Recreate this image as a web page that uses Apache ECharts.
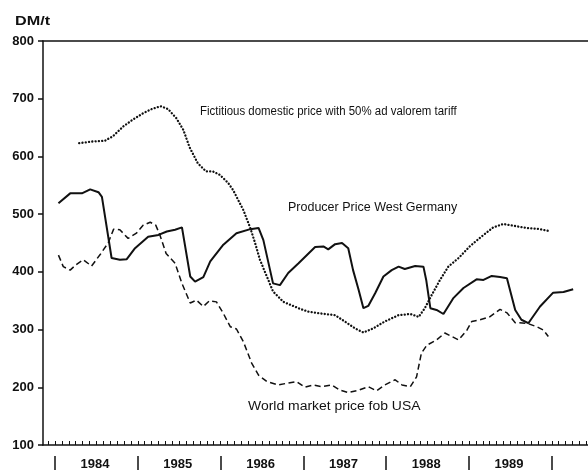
<!DOCTYPE html>
<html>
<head>
<meta charset="utf-8">
<script src="https://cdn.jsdelivr.net/npm/echarts@6/dist/echarts.min.js"></script>
<style>
  html, body { margin: 0; padding: 0; background: #fff; }
  #chart { width: 588px; height: 470px; }
</style>
</head>
<body>
<div id="chart"></div>
<script>
// Years shown under the time axis; months are counted from January 1984 (= 0)
const years = ['1984', '1985', '1986', '1987', '1988', '1989'];
const unitLabel = 'DM/t';

// [month, DM per tonne]
const producerPrice = [
  [0.5, 519], [2.2, 536], [3.9, 536], [5.1, 543], [6.3, 538], [6.8, 530],
  [8.2, 424], [9.4, 421], [10.4, 422], [11.6, 441], [13.5, 461], [15.0, 464],
  [16.2, 470], [17.4, 473], [18.4, 477], [18.6, 476], [19.6, 392], [20.3, 383],
  [21.5, 391], [22.5, 418], [24.4, 447], [26.3, 467], [28.3, 474], [29.5, 476],
  [30.2, 455], [31.6, 380], [32.6, 377], [33.8, 398], [35.3, 415], [37.7, 443],
  [38.9, 444], [39.6, 439], [40.6, 448], [41.6, 450], [42.5, 441], [43.2, 403],
  [44.0, 369], [44.7, 337], [45.4, 341], [46.4, 363], [47.6, 392], [48.8, 403],
  [49.8, 409], [50.7, 405], [52.2, 410], [53.4, 409], [53.8, 386], [54.4, 337],
  [55.3, 334], [56.3, 327], [57.7, 354], [59.2, 372], [61.1, 387], [62.1, 386],
  [63.3, 393], [64.5, 391], [65.5, 389], [66.7, 334], [67.6, 317], [68.6, 311],
  [70.3, 340], [72.2, 364], [73.7, 365], [75.1, 370]
];

const fictitiousPrice = [
  [3.5, 623], [5.5, 626], [7.2, 627], [8.4, 635], [9.9, 652], [11.3, 664],
  [12.8, 675], [14.0, 682], [15.3, 687], [16.4, 682], [17.6, 666], [18.6, 646],
  [19.5, 616], [20.7, 588], [21.9, 574], [22.9, 574], [23.9, 568], [25.1, 554],
  [25.8, 542], [27.3, 507], [28.3, 476], [29.0, 450], [29.7, 421], [30.7, 392],
  [31.6, 366], [33.1, 348], [35.5, 336], [36.7, 331], [39.1, 327], [40.6, 325],
  [42.0, 314], [43.5, 302], [44.7, 295], [46.1, 302], [47.8, 314], [49.8, 325],
  [51.5, 327], [52.7, 322], [53.6, 337], [54.6, 360], [55.8, 386], [57.0, 409],
  [58.5, 424], [60.1, 444], [61.8, 461], [63.5, 477], [65.0, 483], [66.4, 480],
  [68.4, 476], [70.3, 474], [71.5, 471]
];

const worldPrice = [
  [0.5, 429], [1.2, 409], [2.2, 403], [3.0, 412], [4.1, 421], [5.3, 410],
  [6.6, 431], [7.7, 450], [8.5, 474], [9.4, 473], [10.6, 458], [11.8, 467],
  [12.8, 481], [13.8, 486], [14.6, 481], [15.2, 464], [16.1, 432], [17.4, 415],
  [18.4, 380], [19.6, 346], [20.5, 351], [21.5, 340], [22.4, 350], [23.4, 348],
  [24.4, 328], [25.4, 305], [26.3, 301], [27.3, 279], [28.5, 242], [29.5, 221],
  [30.7, 210], [32.4, 204], [33.6, 207], [35.0, 210], [36.2, 200], [37.4, 204],
  [38.7, 201], [40.1, 204], [41.3, 195], [42.5, 191], [44.0, 195], [45.4, 201],
  [46.6, 194], [47.8, 204], [49.3, 213], [50.3, 204], [51.5, 201], [52.4, 218],
  [53.1, 259], [53.9, 273], [55.3, 282], [56.5, 294], [57.5, 288], [58.5, 282],
  [59.7, 299], [60.4, 314], [61.6, 317], [63.0, 322], [64.5, 335], [65.5, 329],
  [66.7, 312], [68.4, 311], [69.8, 305], [70.8, 299], [71.5, 288]
];

const fictitiousLabel = 'Fictitious domestic price with 50% ad valorem tariff';
const producerLabel = 'Producer Price West Germany';
const worldLabel = 'World market price fob USA';

// Axis helpers: monthly minor ticks, year boundaries and mid-year label spots
const monthMin = -1.74, monthMax = 77.25;
const monthTicks = [];
for (let m = Math.ceil(monthMin); m <= Math.floor(monthMax); m++) monthTicks.push(m);
const yearBounds = years.map((_, i) => i * 12).concat([years.length * 12]);
const yearMids = years.map((_, i) => i * 12 + 5.8);

const ink = '#111';
const tickFont = { color: ink, fontFamily: 'Liberation Sans', fontWeight: 'bold', fontSize: 13 };
const noteFont = { fill: ink, font: '12.5px "Liberation Sans"' };

const chart = echarts.init(document.getElementById('chart'), null, { renderer: 'canvas' });

chart.setOption({
  animation: false,
  backgroundColor: '#fff',
  grid: { left: 43, right: 0, top: 41, bottom: 25, containLabel: false, outerBoundsMode: 'none' },
  xAxis: [
    {
      type: 'value', min: monthMin, max: monthMax, position: 'bottom',
      axisLine: { onZero: false, lineStyle: { color: ink, width: 1.5 } },
      axisTick: { inside: true, length: 4, customValues: monthTicks, lineStyle: { color: ink, width: 1 } },
      axisLabel: Object.assign({ customValues: yearMids, margin: 13,
        formatter: v => years[Math.floor(v / 12)] }, tickFont),
      splitLine: { show: false }
    },
    {
      type: 'value', min: monthMin, max: monthMax, position: 'bottom', offset: 11,
      axisLine: { show: false, onZero: false },
      axisTick: { length: 14, customValues: yearBounds, lineStyle: { color: ink, width: 1.5 } },
      axisLabel: { show: false },
      splitLine: { show: false }
    },
    {
      type: 'value', min: monthMin, max: monthMax, position: 'top',
      axisLine: { onZero: false, lineStyle: { color: ink, width: 1.5 } },
      axisTick: { show: false }, axisLabel: { show: false }, splitLine: { show: false }
    }
  ],
  yAxis: {
    type: 'value', min: 100, max: 800, interval: 100, position: 'left',
    axisLine: { show: true, onZero: false, lineStyle: { color: ink, width: 1.5 } },
    axisTick: { show: true, length: 5, lineStyle: { color: ink, width: 1.5 } },
    axisLabel: Object.assign({ margin: 9 }, tickFont),
    splitLine: { show: false }
  },
  series: [
    {
      name: fictitiousLabel, type: 'line', data: fictitiousPrice, showSymbol: false,
      lineStyle: { color: ink, width: 2.3, type: [0.1, 3.2], cap: 'round' }
    },
    {
      name: producerLabel, type: 'line', data: producerPrice, showSymbol: false,
      lineStyle: { color: ink, width: 2 }
    },
    {
      name: worldLabel, type: 'line', data: worldPrice, showSymbol: false,
      lineStyle: { color: ink, width: 1.5, type: [6, 3.5] }
    }
  ],
  graphic: [
    { type: 'text', x: 15, y: 14, scaleX: 1.2,
      style: { text: unitLabel, fill: ink, font: 'bold 13.5px "Liberation Sans"' } },
    { type: 'text', x: 200, y: 105, scaleX: 0.915, style: Object.assign({ text: fictitiousLabel }, noteFont) },
    { type: 'text', x: 288, y: 201, scaleX: 1.0, style: Object.assign({ text: producerLabel }, noteFont) },
    { type: 'text', x: 248, y: 400, scaleX: 1.115, style: Object.assign({ text: worldLabel }, noteFont) }
  ]
});
</script>
</body>
</html>
